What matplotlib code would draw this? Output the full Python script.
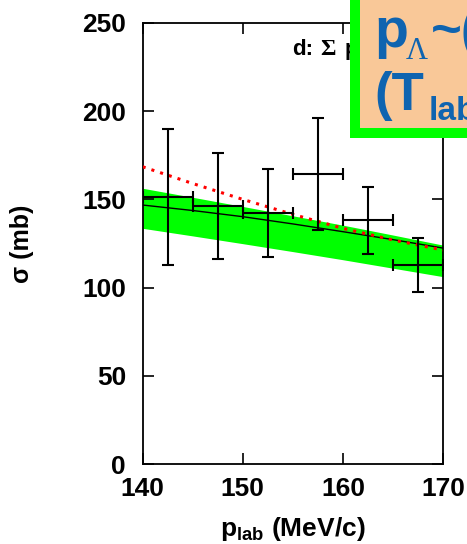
import matplotlib
matplotlib.use("Agg")
import matplotlib.pyplot as plt
from matplotlib.patches import Rectangle

plt.rcParams['font.family'] = ['Liberation Sans', 'DejaVu Sans']
plt.rcParams['font.weight'] = 'bold'
plt.rcParams['mathtext.fontset'] = 'custom'
plt.rcParams['mathtext.rm'] = 'Liberation Sans:bold'
plt.rcParams['mathtext.it'] = 'Liberation Sans:italic:bold'
plt.rcParams['mathtext.bf'] = 'Liberation Sans:bold'

# data points
p_lab = [142.5, 147.5, 152.5, 157.5, 162.5, 167.5]
sigma = [151.5, 146.3, 142.1, 164.4, 138.3, 112.8]
sigma_err = [38.5, 30.0, 25.0, 32.0, 19.0, 15.5]
p_err = [2.5, 2.5, 2.5, 2.5, 2.5, 2.5]

# theory curves
p_theory = [140, 145, 150, 155, 160, 165, 170]
band_upper = [156.3, 151.2, 146.0, 140.7, 135.4, 129.8, 124.1]
band_lower = [133.6, 129.3, 124.9, 120.4, 115.8, 111.0, 106.2]
central = [146.8, 143.7, 140.2, 136.1, 131.7, 127.2, 122.4]
red_curve = [168.5, 159.0, 150.0, 141.5, 133.6, 127.0, 121.3]

xticks = [140, 150, 160, 170]
yticks = [0, 50, 100, 150, 200, 250]

W, H = 467, 544
fig = plt.figure(figsize=(W / 100, H / 100), dpi=100)
ax = fig.add_axes([142.7 / W, 1 - 464 / H, 300.3 / W, 441 / H])

ax.fill_between(p_theory, band_lower, band_upper, color='#00ff00', lw=0, zorder=1)
ax.plot(p_theory, central, color='black', lw=1.0, zorder=2)
ax.plot(p_theory, red_curve, color='#ff0000', lw=2.2, ls=(0, (1, 2)), zorder=3)
ax.errorbar(p_lab, sigma, yerr=sigma_err, xerr=p_err, fmt='none', ecolor='black',
            elinewidth=1.5, capsize=4, capthick=1.5, zorder=4)

ax.set_xlim(140, 170)
ax.set_ylim(0, 250)
ax.set_xticks(xticks)
ax.set_yticks(yticks)
ax.tick_params(direction='in', length=8, width=1.2, top=True, right=True,
               labelsize=19, color='black')
ax.tick_params(axis='x', pad=9)
ax.tick_params(axis='y', pad=12)
for s in ax.spines.values():
    s.set_linewidth(1.3)

ax.set_ylabel('σ (mb)', fontsize=18, fontweight='bold')
ax.yaxis.set_label_coords(-0.362, 0.5)
ax.set_xlabel(r'p$_{\rm lab}$ (MeV/c)', fontsize=19, fontweight='bold')
ax.xaxis.set_label_coords(0.5, -0.116)

def ptext(x, y, s, **kw):
    fig.text(x / W, 1 - y / H, s, va='baseline', ha='left', **kw)

# panel label (partly hidden behind the overlay box, as in the original)
ptext(292, 55, 'd:', fontsize=16, fontweight='bold')
ptext(320, 55, 'Σ', fontsize=17, fontweight='bold', family=['Liberation Serif', 'DejaVu Serif'])
ptext(345, 55, 'p', fontsize=16, fontweight='bold')

# overlay box
box = Rectangle((355 / W, 1 - 133 / H), 0.5, 0.5, transform=fig.transFigure,
                facecolor='#f9c898', edgecolor='#00ff00', lw=7.2, zorder=10)
fig.patches.append(box)
blue = '#0f64b0'
def ftext(x, y, s, **kw):
    fig.text(x / W, 1 - y / H, s, va='baseline', ha='left', color=blue, zorder=11, **kw)
ftext(374, 47, 'p', fontsize=40, fontweight='bold')
ftext(406, 59, 'Λ', fontsize=22, fontweight='normal', family=['Liberation Serif', 'DejaVu Serif'])
ftext(431, 47, '~(', fontsize=38, fontweight='bold')
ftext(374, 110, '(T', fontsize=38, fontweight='bold')
ftext(429, 120, 'lab', fontsize=24, fontweight='bold')

fig.savefig('out.png', dpi=100)
